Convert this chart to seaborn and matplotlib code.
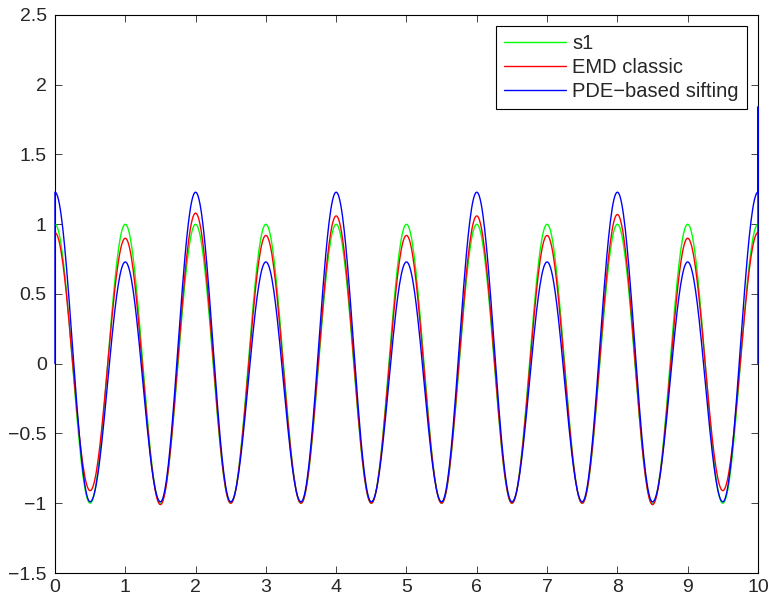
import numpy as np
import pandas as pd
import seaborn as sns
import matplotlib.pyplot as plt

# extrema: peaks at integer t, troughs at t + 0.5
t_peak = [0, 1, 2, 3, 4, 5, 6, 7, 8, 9, 10]
t_trough = [0.5, 1.5, 2.5, 3.5, 4.5, 5.5, 6.5, 7.5, 8.5, 9.5]

s1_peaks = [1.0, 1.0, 1.0, 1.0, 1.0, 1.0, 1.0, 1.0, 1.0, 1.0, 1.0]
s1_troughs = [-1.0, -1.0, -1.0, -1.0, -1.0, -1.0, -1.0, -1.0, -1.0, -1.0]

emd_peaks = [0.94, 0.90, 1.08, 0.92, 1.06, 0.92, 1.06, 0.92, 1.07, 0.90, 0.94]
emd_troughs = [-0.91, -1.01, -1.0, -1.0, -1.0, -1.0, -1.0, -1.0, -1.01, -0.91]

pde_peaks = [1.23, 0.73, 1.23, 0.73, 1.23, 0.73, 1.23, 0.73, 1.23, 0.73, 1.23]
pde_troughs = [-0.99, -0.99, -0.99, -0.99, -0.99, -0.99, -0.99, -0.99, -0.99, -0.99]
# boundary artefacts of the PDE sifting at both ends
pde_start = [0.0]
pde_end = [1.84, 0.0]

labels = ['s1', 'EMD classic', 'PDE\u2212based sifting']
colors = ['#00ff00', '#ff0000', '#0000ff']


def wave(peaks, troughs, n=40):
    # join the extrema with half-cosine arcs
    tk = np.array(sorted(t_peak + t_trough), dtype=float)
    vk = np.empty(len(tk))
    vk[0::2] = peaks
    vk[1::2] = troughs
    ts, ys = [], []
    for i in range(len(tk) - 1):
        u = np.linspace(0, 1, n, endpoint=False)
        ts.append(tk[i] + u * (tk[i + 1] - tk[i]))
        ys.append((vk[i] + vk[i + 1]) / 2 + (vk[i] - vk[i + 1]) / 2 * np.cos(np.pi * u))
    ts.append([tk[-1]])
    ys.append([vk[-1]])
    return np.concatenate(ts), np.concatenate(ys)


frames = []
for lab, pk, tr in zip(labels, [s1_peaks, emd_peaks, pde_peaks],
                       [s1_troughs, emd_troughs, pde_troughs]):
    t, y = wave(pk, tr)
    if lab.startswith('PDE'):
        t = np.concatenate([[0.0], t, [10.0] * len(pde_end)])
        y = np.concatenate([pde_start, y, pde_end])
    frames.append(pd.DataFrame({'t': t, 'y': y, 'series': lab}))
df = pd.concat(frames, ignore_index=True)

sns.set_style('ticks')
plt.rcParams['font.family'] = ['Liberation Sans', 'DejaVu Sans']

fig = plt.figure(figsize=(7.71, 5.99), dpi=100)
ax = fig.add_axes([0.0713, 0.0434, 0.9118, 0.9316])

for lab, col in zip(labels, colors):
    sns.lineplot(data=df[df['series'] == lab], x='t', y='y', color=col,
                 label=lab, lw=1.0, sort=False, estimator=None, ax=ax,
                 zorder=3, clip_on=False)

ax.set_xlim(0, 10)
ax.set_ylim(-1.5, 2.5)
ax.set_xticks(range(0, 11))
ax.set_yticks(np.arange(-1.5, 2.51, 0.5))
ax.set_yticklabels(['\u22121.5', '\u22121', '\u22120.5', '0', '0.5', '1', '1.5', '2', '2.5'])
ax.set_xlabel('')
ax.set_ylabel('')
ax.tick_params(direction='in', top=True, right=True, labelsize=14, length=5, width=0.6)
ax.tick_params(axis='x', pad=4)
ax.tick_params(axis='y', pad=6)
for sp in ax.spines.values():
    sp.set_visible(True)
    sp.set_linewidth(0.8)
    sp.set_color('black')

leg = ax.legend(loc='upper right', fontsize=14.5, frameon=True, fancybox=False,
                framealpha=1, edgecolor='black', handlelength=3.1,
                handletextpad=0.3, borderaxespad=0.55, labelspacing=0.25,
                borderpad=0.4)
leg.get_frame().set_linewidth(0.8)
leg.set_zorder(5)

fig.savefig('out.png', dpi=100)
